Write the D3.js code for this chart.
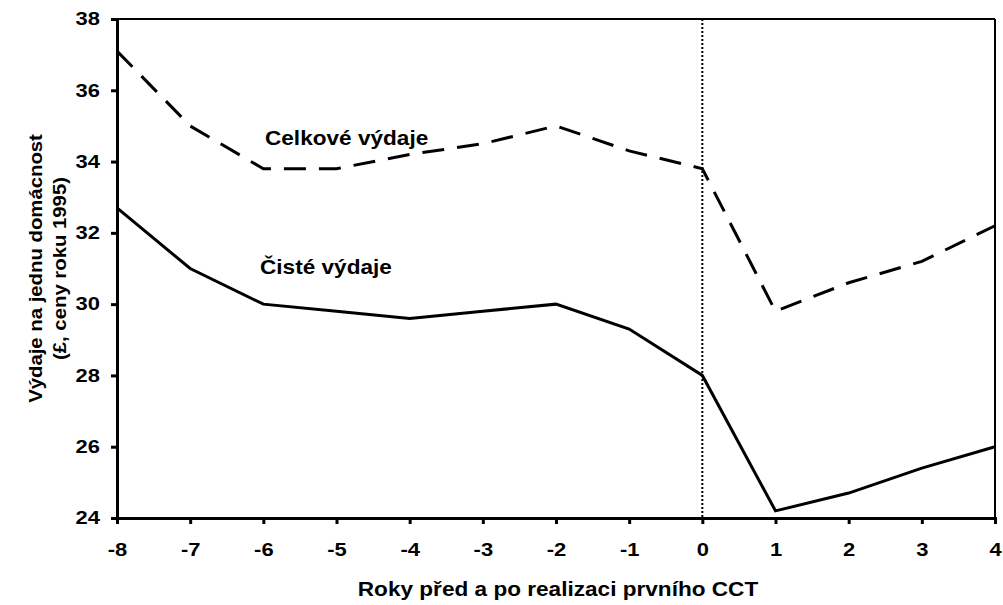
<!DOCTYPE html>
<html>
<head>
<meta charset="utf-8">
<script src="https://cdn.jsdelivr.net/npm/d3@7"></script>
<style>
  body { margin: 0; background: #fff; }
  text { font-family: "Liberation Sans", Arial, sans-serif; font-weight: bold; fill: #000; }
</style>
</head>
<body>
<div id="chart"></div>
<script>
// Years relative to first CCT
const years = [-8, -7, -6, -5, -4, -3, -2, -1, 0, 1, 2, 3, 4];
const totalSpend = [37.1, 35.0, 33.8, 33.8, 34.2, 34.5, 35.0, 34.3, 33.8, 29.8, 30.6, 31.2, 32.2];
const netSpend = [32.7, 31.0, 30.0, 29.8, 29.6, 29.8, 30.0, 29.3, 28.0, 24.2, 24.7, 25.4, 26.0];
const yTicks = [24, 26, 28, 30, 32, 34, 36, 38];

const width = 1003, height = 605;
const margin = { left: 117, right: 8, top: 19, bottom: 87 };
// the source chart's text is stretched sideways
const tickScale = 1.22, textScale = 1.13;

const svg = d3.select("#chart").append("svg")
    .attr("width", width)
    .attr("height", height);

const x = d3.scaleLinear().domain([-8, 4]).range([margin.left, width - margin.right]);
const y = d3.scaleLinear().domain([24, 38]).range([height - margin.bottom, margin.top]);

// frame top / right (thin)
svg.append("line")
    .attr("x1", x(-8)).attr("x2", x(4)).attr("y1", y(38)).attr("y2", y(38))
    .attr("stroke", "#000").attr("stroke-width", 2);
svg.append("line")
    .attr("x1", x(4)).attr("x2", x(4)).attr("y1", y(38)).attr("y2", y(24))
    .attr("stroke", "#000").attr("stroke-width", 2);

// dotted marker at year 0
svg.append("line")
    .attr("x1", x(0)).attr("x2", x(0)).attr("y1", y(38)).attr("y2", y(24))
    .attr("stroke", "#000").attr("stroke-width", 2)
    .attr("stroke-dasharray", "2,2");

const line = d3.line().x((d, i) => x(years[i])).y(d => y(d));

svg.append("path")
    .datum(totalSpend)
    .attr("d", line)
    .attr("fill", "none")
    .attr("stroke", "#000")
    .attr("stroke-width", 3)
    .attr("stroke-dasharray", "22,13");

svg.append("path")
    .datum(netSpend)
    .attr("d", line)
    .attr("fill", "none")
    .attr("stroke", "#000")
    .attr("stroke-width", 3);

// axes
const fmt = d => String(d);
const xAxis = svg.append("g")
    .attr("transform", `translate(0,${y(24)})`)
    .call(d3.axisBottom(x).tickValues(years).tickFormat(fmt).tickSize(6).tickPadding(19));
const yAxis = svg.append("g")
    .attr("transform", `translate(${x(-8)},0)`)
    .call(d3.axisLeft(y).tickValues(yTicks).tickFormat(fmt).tickSize(6).tickPadding(11));

[xAxis, yAxis].forEach(g => {
    g.select(".domain").style("stroke-width", "3px");
    g.selectAll(".tick line").style("stroke-width", "3px");
    g.selectAll(".tick text").attr("font-size", 18);
});
xAxis.selectAll(".tick text").attr("transform", `scale(${tickScale},1)`);
yAxis.selectAll(".tick text")
    .attr("x", -17 / tickScale)
    .attr("transform", `scale(${tickScale},1)`);

function label(px, py, txt, anchor) {
    svg.append("text")
        .attr("transform", `translate(${px},${py}) scale(${textScale},1)`)
        .attr("text-anchor", anchor || "start")
        .attr("font-size", 20)
        .text(txt);
}

// series labels
label(265, 145, "Celkové výdaje");
label(260, 274, "Čisté výdaje");

// axis title
label(558, 596, "Roky před a po realizaci prvního CCT", "middle");

const yc = (y(24) + y(38)) / 2;
[["Výdaje na jednu domácnost", 42], ["(£, ceny roku 1995)", 66]].forEach(([t, bx]) => {
    svg.append("text")
        .attr("transform", `translate(${bx},${yc}) rotate(-90) scale(${textScale},1)`)
        .attr("text-anchor", "middle").attr("font-size", 18)
        .text(t);
});
</script>
</body>
</html>
